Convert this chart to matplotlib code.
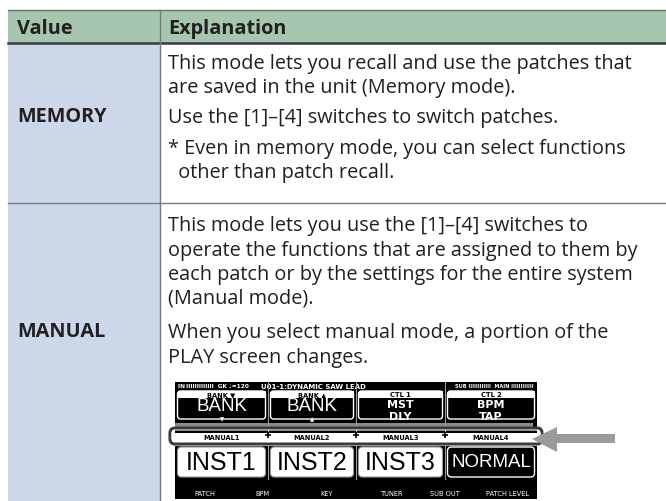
# %% Imports
import matplotlib
matplotlib.use("Agg")
import matplotlib.pyplot as plt
from matplotlib.patches import Rectangle, FancyBboxPatch, Polygon

# %% Table content
header = ["Value", "Explanation"]
values = ["MEMORY", "MANUAL"]

memory_lines = [
    "This mode lets you recall and use the patches that",
    "are saved in the unit (Memory mode).",
    "Use the [1]\u2013[4] switches to switch patches.",
    "* Even in memory mode, you can select functions",
    "  other than patch recall.",
]
memory_y = [64, 88, 118, 149, 173]

manual_lines = [
    "This mode lets you use the [1]\u2013[4] switches to",
    "operate the functions that are assigned to them by",
    "each patch or by the settings for the entire system",
    "(Manual mode).",
    "When you select manual mode, a portion of the",
    "PLAY screen changes.",
]
manual_y = [226, 251, 275, 299, 333, 358]

# screen texts (PLAY screen picture)
ctl_labels = ["BANK \u25bc", "BANK \u25b2", "CTL 1", "CTL 2"]
ctl_values = ["BANK", "BANK", "MST\nDLY", "BPM\nTAP"]
manual_labels = ["MANUAL1", "MANUAL2", "MANUAL3", "MANUAL4"]
inst_labels = ["INST1", "INST2", "INST3", "NORMAL"]
knob_labels = ["PATCH", "BPM", "KEY", "TUNER", "SUB OUT", "PATCH LEVEL"]
knob_x = [205, 262, 327, 392, 445, 508]

# %% Colours
green = "#a6c6b0"
blue = "#ccd8e9"
ink = "#231f20"
font = "Open Sans"
fs = 14.3

fig = plt.figure(figsize=(6.66, 5.02), dpi=100)
ax = fig.add_axes([0, 0, 1, 1])
ax.set_xlim(0, 666)
ax.set_ylim(502, 0)
ax.axis("off")

# %% Table background and rules
ax.add_patch(Rectangle((8, 11), 658, 32.5, color=green, lw=0))
ax.add_patch(Rectangle((8, 44), 152, 458, color=blue, lw=0))
ax.plot([8, 666], [11, 11], color="#6d6d6d", lw=1)
ax.plot([8, 666], [43.5, 43.5], color="#3a3a3a", lw=1.8)
ax.plot([8, 666], [203.5, 203.5], color="#7a7a7a", lw=1)
ax.plot([160, 160], [11, 502], color="#7a7a7a", lw=1)

# header
for txt, x in zip(header, [17, 168]):
    ax.text(x, 29, txt, fontsize=fs, fontweight="bold", color=ink,
            family=font, va="center", ha="left")

# value column
for txt, y in zip(values, [117, 332]):
    ax.text(17, y, txt, fontsize=fs, fontweight="bold", color=ink,
            family=font, va="center", ha="left")

# explanation column
for txt, y in zip(memory_lines, memory_y):
    ax.text(168, y, txt, fontsize=fs, color=ink, family=font,
            va="center", ha="left")
for txt, y in zip(manual_lines, manual_y):
    ax.text(168, y, txt, fontsize=fs, color=ink, family=font,
            va="center", ha="left")

# %% PLAY screen picture
sx0, sx1, sy0, sy1 = 175, 537, 383, 500
cols = [175, 268, 356, 445, 537]
ax.add_patch(Rectangle((sx0, sy0), sx1 - sx0, sy1 - sy0, color="black", lw=0))

mono = "DejaVu Sans"
# status bar
ax.text(178, 387, "IN\u2009IIIIIIIIIIIII  GK \u2669=120", fontsize=4.2,
        color="white", family=mono, fontweight="bold", va="center")
ax.text(313, 387, "U01-1:DYNAMIC SAW LEAD", fontsize=5, color="white",
        family=mono, fontweight="bold", va="center", ha="center")
ax.text(455, 387, "SUB IIIIIIIIIIII  MAIN IIIIIIIIIIII", fontsize=3.6,
        color="white", family=mono, fontweight="bold", va="center")

for i in range(4):
    x0, x1 = cols[i] + 2.5, cols[i + 1] - 2.5
    xc = (cols[i] + cols[i + 1]) / 2
    # upper box outline + label stripe
    ax.add_patch(FancyBboxPatch((x0, 392), x1 - x0, 28,
                                boxstyle="round,pad=0,rounding_size=3",
                                fc="black", ec="white", lw=1))
    ax.add_patch(Rectangle((x0, 392), x1 - x0, 6.5, color="white", lw=0))
    ax.text(xc, 395.3, ctl_labels[i], fontsize=4.8, color="black",
            family=mono, fontweight="bold", ha="center", va="center")
    if "\n" in ctl_values[i]:
        top, bot = ctl_values[i].split("\n")
        ax.text(xc, 405, top, fontsize=8, color="white", family=mono,
                fontweight="bold", ha="center", va="center")
        t = ax.text(xc, 417.5, bot, fontsize=8, color="white", family=mono,
                    fontweight="bold", ha="center", va="center")
        t.set_clip_path(Rectangle((x0, 392), x1 - x0, 27.5,
                                  transform=ax.transData))
    else:
        ax.text(xc, 407, ctl_values[i], fontsize=13.5, color="white",
                family="Liberation Sans", ha="center", va="center")

    # manual stripe
    ax.text(xc, 438.5, manual_labels[i], fontsize=4.8, color="black",
            family=mono, fontweight="bold", ha="center", va="center",
            zorder=6)

    # lower instrument box
    if i < 3:
        ax.add_patch(FancyBboxPatch((x0, 448), x1 - x0, 30,
                                    boxstyle="round,pad=0,rounding_size=4",
                                    fc="white", ec="#999999", lw=0.8))
        ax.text(xc, 463, inst_labels[i], fontsize=18, color="black",
                family="Liberation Sans", ha="center", va="center")
    else:
        ax.add_patch(FancyBboxPatch((x0, 448), x1 - x0, 30,
                                    boxstyle="round,pad=0,rounding_size=4",
                                    fc="black", ec="white", lw=1))
        ax.text(xc, 463, inst_labels[i], fontsize=13.5, color="white",
                family="Liberation Sans", ha="center", va="center")

# small arrows under BANK
ax.text(222, 420, "\u25bc", fontsize=4, color="white", ha="center",
        va="center", family=mono)
ax.text(312, 420, "\u25b2", fontsize=4, color="white", ha="center",
        va="center", family=mono)

# grey band and manual stripe
ax.add_patch(Rectangle((sx0, 424), sx1 - sx0 - 4, 5, color="#8a8a8a", lw=0))
ax.add_patch(Rectangle((sx0, 433.5), sx1 - sx0, 9.5, color="white", lw=0,
                       zorder=5))
ax.plot([sx0, sx1], [445.5, 445.5], color="white", lw=0.8, zorder=5)
for x in cols[1:4]:
    ax.plot([x, x], [sy0, 480], color="#9a9a9a", lw=0.8, zorder=4)
    ax.plot([x], [436], marker="+", ms=4, mew=1.2, color="black", zorder=7)

# highlight frame around the manual stripe
ax.add_patch(FancyBboxPatch((170, 429), 372, 16,
                            boxstyle="round,pad=0,rounding_size=5",
                            fc="none", ec="#3a3a3a", lw=2.2, zorder=8))
ax.add_patch(FancyBboxPatch((172, 431), 368, 12,
                            boxstyle="round,pad=0,rounding_size=4",
                            fc="none", ec="white", lw=0.8, zorder=8))

# knob labels
for txt, x in zip(knob_labels, knob_x):
    ax.text(x, 494, txt, fontsize=4.8, color="white", family=mono,
            ha="center", va="center")

# pointing arrow
ax.add_patch(Polygon([(532, 440), (557, 428), (557, 435), (615, 435),
                      (615, 444), (557, 444), (557, 453)],
                     closed=True, fc="#9b9b9b", ec="none", zorder=9))

fig.savefig("out.png", dpi=100)
